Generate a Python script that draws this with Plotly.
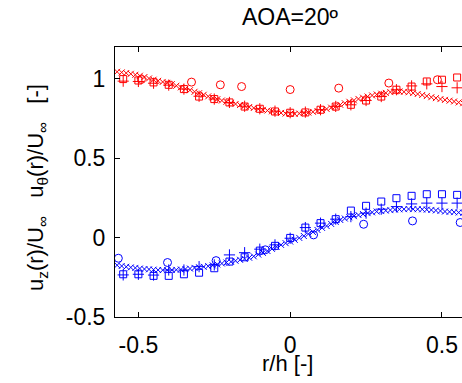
import numpy as np
import plotly.graph_objects as go

# fine (dense 'x') series
r_fine = np.round(np.arange(-0.57, 0.5701, 0.015), 3)
uth_fine = [1.044, 1.040, 1.036, 1.031, 1.025, 1.019, 1.011, 1.002, 0.994, 0.987,
            0.980, 0.974, 0.966, 0.956, 0.946, 0.937, 0.928, 0.918, 0.909, 0.899,
            0.889, 0.879, 0.871, 0.863, 0.855, 0.848, 0.841, 0.835, 0.829, 0.822,
            0.816, 0.809, 0.804, 0.800, 0.795, 0.790, 0.785, 0.781, 0.779, 0.779,
            0.781, 0.784, 0.787, 0.792, 0.797, 0.803, 0.810, 0.818, 0.826, 0.836,
            0.846, 0.855, 0.864, 0.873, 0.881, 0.888, 0.895, 0.901, 0.906, 0.911,
            0.916, 0.920, 0.920, 0.918, 0.915, 0.910, 0.904, 0.898, 0.891, 0.884,
            0.878, 0.872, 0.867, 0.862, 0.857, 0.851, 0.846]
uz_fine = [-0.174, -0.179, -0.184, -0.188, -0.191, -0.195, -0.198, -0.200, -0.202, -0.204,
           -0.205, -0.205, -0.204, -0.203, -0.201, -0.198, -0.195, -0.191, -0.187, -0.184,
           -0.180, -0.175, -0.169, -0.163, -0.157, -0.152, -0.146, -0.140, -0.134, -0.127,
           -0.118, -0.107, -0.096, -0.084, -0.071, -0.058, -0.046, -0.035, -0.025, -0.014,
           -0.002, 0.010, 0.023, 0.035, 0.048, 0.061, 0.073, 0.086, 0.099, 0.111,
           0.120, 0.128, 0.135, 0.142, 0.148, 0.154, 0.159, 0.164, 0.167, 0.170,
           0.173, 0.176, 0.178, 0.179, 0.180, 0.179, 0.179, 0.178, 0.176, 0.174,
           0.171, 0.168, 0.164, 0.162, 0.160, 0.158, 0.157]

# square / plus series
r_sq = [-0.55, -0.50, -0.45, -0.40, -0.35, -0.30, -0.25, -0.20, -0.15, -0.10, -0.05, 0.0,
        0.05, 0.10, 0.15, 0.20, 0.25, 0.30, 0.35, 0.40, 0.45, 0.50, 0.55]
uth_sq = [0.998, 0.989, 0.977, 0.962, 0.935, 0.888, 0.872, 0.851, 0.825, 0.811, 0.794, 0.786,
          0.788, 0.805, 0.825, 0.836, 0.863, 0.888, 0.931, 0.951, 0.983, 0.994, 1.008]
uth_plus = [0.985, 0.983, 0.972, 0.960, 0.935, 0.890, 0.872, 0.851, 0.827, 0.811, 0.796, 0.786,
            0.790, 0.805, 0.826, 0.836, 0.863, 0.888, 0.931, 0.955, 0.968, 0.951, 0.943]
uz_sq = [-0.231, -0.231, -0.241, -0.241, -0.231, -0.221, -0.193, -0.151, -0.124, -0.082, -0.052, -0.002,
         0.063, 0.091, 0.116, 0.170, 0.200, 0.227, 0.248, 0.263, 0.273, 0.273, 0.269]
uz_plus = [-0.235, -0.231, -0.236, -0.204, -0.204, -0.183, -0.172, -0.109, -0.095, -0.073, -0.046, -0.004,
           0.063, 0.091, 0.116, 0.132, 0.154, 0.179, 0.195, 0.212, 0.217, 0.217, 0.217]

# circle series
r_circ_th = [-0.49, -0.325, -0.23, -0.16, 0.0, 0.16, 0.325, 0.485]
uth_circ = [0.996, 0.979, 0.962, 0.951, 0.932, 0.941, 0.973, 0.994]
r_circ_z = [-0.566, -0.404, -0.244, -0.082, 0.077, 0.242, 0.403, 0.560]
uz_circ = [-0.130, -0.157, -0.145, -0.077, 0.017, 0.084, 0.105, 0.095]

RED = "rgb(255,0,0)"
BLUE = "rgb(0,0,255)"
FONT = "Liberation Sans, Arial, sans-serif"
XRANGE = [-0.577, 0.566]

fig = go.Figure()

def add(x, y, sym, size, color):
    fig.add_trace(go.Scatter(x=x, y=y, mode="markers", showlegend=False, cliponaxis=True,
                             hoverinfo="skip",
                             marker=dict(symbol=sym, size=size, color=color,
                                         line=dict(color=color, width=1))))

add(r_fine, uth_fine, "x-thin-open", 6, RED)
add(r_sq, uth_sq, "square-open", 7, RED)
add(r_sq, uth_plus, "cross-thin-open", 8, RED)
add(r_circ_th, uth_circ, "circle-open", 8, RED)
add(r_fine, uz_fine, "x-thin-open", 6, BLUE)
add(r_sq, uz_sq, "square-open", 7, BLUE)
add(r_sq, uz_plus, "cross-thin-open", 8, BLUE)
add(r_circ_z, uz_circ, "circle-open", 8, BLUE)

# invisible trace to activate the top axis
fig.add_trace(go.Scatter(x=[r_sq[0]], y=[uth_sq[0]], xaxis="x2", mode="markers",
                         marker=dict(opacity=0), showlegend=False, hoverinfo="skip"))

fig.update_layout(
    width=462, height=383,
    margin=dict(l=115, r=0, t=47, b=66, autoexpand=False),
    paper_bgcolor="white", plot_bgcolor="white",
    font=dict(family=FONT, size=23, color="black"),
    xaxis=dict(range=XRANGE, tickvals=[-0.5, 0, 0.5], ticktext=["-0.5", "0", "0.5"],
               ticks="inside", ticklen=5, tickcolor="black", showline=True, linecolor="black",
               linewidth=1, mirror="ticks", showgrid=False, zeroline=False,
               ticklabelstandoff=7, automargin=False),
    xaxis2=dict(range=XRANGE, overlaying="x", side="top", tickvals=[-0.5, 0, 0.5],
                showticklabels=False, ticks="inside", ticklen=5, tickcolor="black",
                showline=True, linecolor="black", linewidth=1, showgrid=False,
                zeroline=False, automargin=False),
    yaxis=dict(range=[-0.5, 1.2], tickvals=[-0.5, 0, 0.5, 1], ticktext=["-0.5", "0", "0.5", "1"],
               ticks="inside", ticklen=5, tickcolor="black", showline=True, linecolor="black",
               linewidth=1, showgrid=False, zeroline=False, ticklabelstandoff=4,
               automargin=False),
)

fig.add_annotation(text="AOA=20º", xref="paper", yref="paper", x=(290 - 115) / 347, y=1,
                   yshift=30, showarrow=False, font=dict(size=23), xanchor="center", yanchor="middle")
fig.add_annotation(text="r/h [-]", xref="paper", yref="paper", x=(287 - 115) / 347, y=0,
                   yshift=-46, showarrow=False, font=dict(size=22), xanchor="center", yanchor="middle")
fig.add_annotation(text="u<sub>z</sub>(r)/U<sub>∞</sub>   u<sub>θ</sub>(r)/U<sub>∞</sub>   [-]",
                   xref="paper", yref="paper", x=0, xshift=-78, y=(317 - 188) / 270,
                   textangle=-90, showarrow=False, font=dict(size=22),
                   xanchor="center", yanchor="middle")

fig.write_html("out.html", config={"displayModeBar": False},
               post_script="document.body.style.margin='0';document.body.style.overflow='hidden';")
